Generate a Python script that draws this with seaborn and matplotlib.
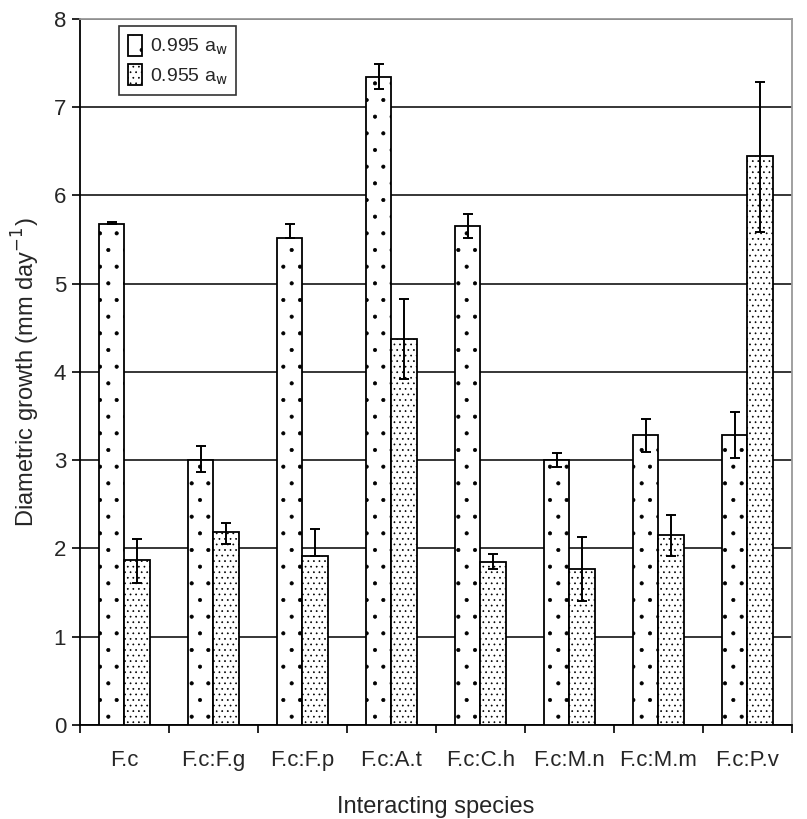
import matplotlib
matplotlib.use("Agg")
import matplotlib.pyplot as plt
import matplotlib.patches as mpatches
from matplotlib.container import BarContainer
from matplotlib.ticker import FixedLocator
import seaborn as sns
import pandas as pd
import numpy as np

categories = ["F.c", "F.c:F.g", "F.c:F.p", "F.c:A.t", "F.c:C.h", "F.c:M.n", "F.c:M.m", "F.c:P.v"]
series_names = ["0.995 a$_\\mathrm{w}$", "0.955 a$_\\mathrm{w}$"]
mean_995 = [5.67, 3.00, 5.52, 7.34, 5.65, 3.00, 3.28, 3.28]
mean_955 = [1.87, 2.18, 1.91, 4.37, 1.85, 1.76, 2.15, 6.45]
err_995_up = [0.03, 0.16, 0.16, 0.15, 0.14, 0.08, 0.18, 0.27]
err_995_lo = [0.00, 0.14, 0.00, 0.14, 0.13, 0.08, 0.19, 0.26]
err_955_up = [0.23, 0.11, 0.31, 0.46, 0.08, 0.37, 0.23, 0.83]
err_955_lo = [0.26, 0.13, 0.00, 0.45, 0.09, 0.36, 0.24, 0.87]
yticks = [0, 1, 2, 3, 4, 5, 6, 7, 8]

sns.set_style("white")
plt.rcParams["font.family"] = ["Liberation Sans", "DejaVu Sans"]
plt.rcParams["hatch.color"] = "black"
plt.rcParams["hatch.linewidth"] = 0.5

df = pd.DataFrame({
    "species": categories * 2,
    "aw": [series_names[0]] * len(categories) + [series_names[1]] * len(categories),
    "growth": mean_995 + mean_955,
})

fig = plt.figure(figsize=(8.07, 8.19), dpi=100)
ax = fig.add_axes([0.099, 0.115, 0.882, 0.862])

sns.barplot(data=df, x="species", y="growth", hue="aw", order=categories,
            hue_order=series_names, width=0.57, errorbar=None,
            palette=["white", "white"], edgecolor="black", linewidth=1.3,
            ax=ax, zorder=3)

hatches = [".", "..."]
errs = [(err_995_lo, err_995_up), (err_955_lo, err_955_up)]
means = [mean_995, mean_955]
bar_conts = [c for c in ax.containers if isinstance(c, BarContainer)]
for i, cont in enumerate(bar_conts):
    xs = []
    for bar in cont.patches:
        bar.set_hatch(hatches[i])
        bar.set_edgecolor("black")
        xs.append(bar.get_x() + bar.get_width() / 2)
    ax.errorbar(xs, means[i], yerr=[errs[i][0], errs[i][1]], fmt="none",
                ecolor="black", elinewidth=1.4, capsize=3.8, capthick=1.4, zorder=4)

ax.set_ylim(0, 8)
ax.set_xlim(-0.5, len(categories) - 0.5)
ax.set_yticks(yticks)
ax.set_yticklabels([str(t) for t in yticks], fontsize=16)
ax.yaxis.grid(True, color="black", linewidth=1.1)
ax.set_axisbelow(True)
ax.xaxis.grid(False)

ax.tick_params(axis="x", which="major", length=0, labelsize=16, pad=18)
ax.xaxis.set_minor_locator(FixedLocator(np.arange(-0.5, len(categories), 1.0)))
ax.tick_params(axis="x", which="minor", length=6, width=1.2, direction="out", color="black", bottom=True)
ax.tick_params(axis="y", which="major", length=6, width=1.2, direction="out", color="black", left=True, pad=4)

for side in ["left", "bottom"]:
    ax.spines[side].set_color("black")
    ax.spines[side].set_linewidth(1.3)
for side in ["top", "right"]:
    ax.spines[side].set_visible(True)
    ax.spines[side].set_color("#999999")
    ax.spines[side].set_linewidth(1.3)

ax.set_xlabel("Interacting species", fontsize=17, labelpad=18)
ax.set_ylabel("Diametric growth (mm day$^{-1}$)", fontsize=17, labelpad=8)

if ax.get_legend() is not None:
    ax.get_legend().remove()
handles = [mpatches.Patch(facecolor="white", edgecolor="black", hatch=h, linewidth=1.3) for h in hatches]
leg = ax.legend(handles, series_names, loc="upper left", bbox_to_anchor=(0.05, 0.995),
                fontsize=14, frameon=True, fancybox=False, edgecolor="black",
                handlelength=0.7, handleheight=1.3, handletextpad=0.4,
                borderpad=0.45, labelspacing=0.35, borderaxespad=0.2)
leg.get_frame().set_linewidth(1.2)
leg.set_zorder(5)

fig.savefig("out.png", dpi=100, facecolor="white")
